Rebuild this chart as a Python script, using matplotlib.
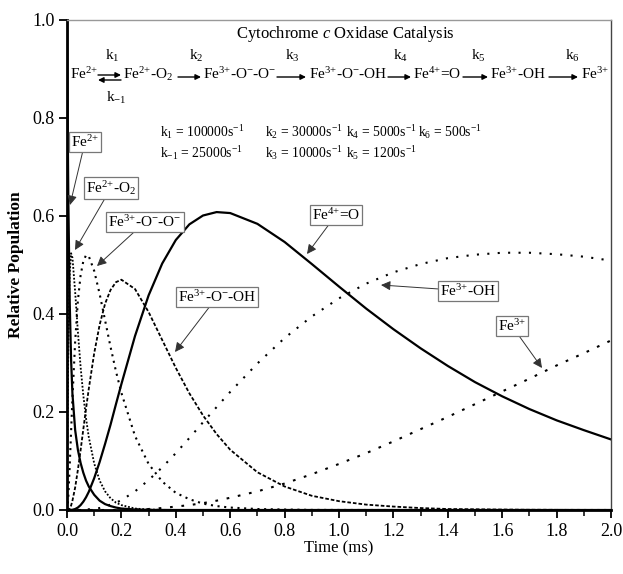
import matplotlib
matplotlib.use("Agg")
import matplotlib.pyplot as plt
from matplotlib.ticker import MultipleLocator

plt.rcParams['font.family'] = 'Liberation Serif'
plt.rcParams['mathtext.fontset'] = 'custom'
plt.rcParams['mathtext.rm'] = 'Liberation Serif'
plt.rcParams['mathtext.it'] = 'Liberation Serif:italic'
plt.rcParams['mathtext.bf'] = 'Liberation Serif:bold'

############################################################################
#                      DATA
############################################################################

time_ms = [0, 0.002, 0.005, 0.01, 0.015, 0.02, 0.03, 0.04, 0.05, 0.06,
           0.07, 0.08, 0.1, 0.12, 0.14, 0.16, 0.18, 0.2, 0.25, 0.3,
           0.35, 0.4, 0.45, 0.5, 0.55, 0.6, 0.7, 0.8, 0.9, 1.0,
           1.1, 1.2, 1.3, 1.4, 1.5, 1.6, 1.7, 1.8, 1.9, 2.0]

fe2 = [1.0, 0.823, 0.627, 0.423, 0.307, 0.237, 0.163, 0.123, 0.096, 0.076,
       0.060, 0.048, 0.031, 0.019, 0.012, 0.008, 0.005, 0.003, 0.001, 0.0003,
       0.0001, 0, 0, 0, 0, 0, 0, 0, 0, 0,
       0, 0, 0, 0, 0, 0, 0, 0, 0, 0]

fe2_o2 = [0, 0.172, 0.344, 0.484, 0.524, 0.515, 0.445, 0.364, 0.292, 0.234,
          0.187, 0.149, 0.095, 0.060, 0.038, 0.024, 0.015, 0.010, 0.003, 0.001,
          0.0003, 0, 0, 0, 0, 0, 0, 0, 0, 0,
          0, 0, 0, 0, 0, 0, 0, 0, 0, 0]

peroxo = [0, 0.005, 0.029, 0.090, 0.160, 0.228, 0.344, 0.427, 0.479, 0.508,
          0.520, 0.518, 0.488, 0.441, 0.387, 0.333, 0.283, 0.239, 0.151, 0.094,
          0.058, 0.035, 0.022, 0.013, 0.008, 0.005, 0.002, 0.001, 0.0002, 0.0001,
          0, 0, 0, 0, 0, 0, 0, 0, 0, 0]

hydroperoxo = [0, 0, 0.0005, 0.003, 0.009, 0.019, 0.046, 0.082, 0.122, 0.165,
               0.207, 0.247, 0.320, 0.378, 0.421, 0.449, 0.465, 0.470, 0.451, 0.404,
               0.347, 0.290, 0.238, 0.193, 0.155, 0.123, 0.077, 0.048, 0.029, 0.018,
               0.011, 0.007, 0.004, 0.002, 0.0015, 0.0009, 0.0005, 0.0003, 0.0002, 0.0001]

ferryl = [0, 0, 0, 0, 0.0002, 0.0005, 0.002, 0.005, 0.010, 0.017,
          0.026, 0.037, 0.065, 0.098, 0.135, 0.174, 0.216, 0.257, 0.355, 0.438,
          0.503, 0.551, 0.583, 0.601, 0.608, 0.606, 0.584, 0.547, 0.502, 0.456,
          0.411, 0.369, 0.330, 0.294, 0.261, 0.232, 0.206, 0.183, 0.163, 0.144]

hydroxo = [0, 0, 0, 0, 0, 0, 0, 0, 0.0002, 0.0005,
           0.001, 0.0015, 0.002, 0.004, 0.007, 0.011, 0.015, 0.020, 0.038, 0.061,
           0.087, 0.116, 0.147, 0.179, 0.210, 0.241, 0.299, 0.351, 0.395, 0.432,
           0.462, 0.485, 0.502, 0.514, 0.521, 0.525, 0.525, 0.522, 0.517, 0.509]

ferric = [0, 0, 0, 0, 0, 0, 0, 0, 0, 0,
          0, 0, 0, 0, 0, 0, 0, 0.0002, 0.001, 0.002,
          0.004, 0.007, 0.010, 0.014, 0.019, 0.025, 0.038, 0.054, 0.073, 0.094,
          0.116, 0.140, 0.165, 0.190, 0.216, 0.242, 0.268, 0.295, 0.320, 0.346]

species = ['Fe$^{2{+}}$', 'Fe$^{2{+}}$-O$_2$', 'Fe$^{3{+}}$-O$^{-}$-O$^{-}$',
           'Fe$^{3{+}}$-O$^{-}$-OH', 'Fe$^{4{+}}$=O', 'Fe$^{3{+}}$-OH', 'Fe$^{3{+}}$']
rate_labels = ['k$_1$', 'k$_2$', 'k$_3$', 'k$_4$', 'k$_5$', 'k$_6$']


def px(x, y):
    # pixel position in the 623x574 picture -> data coordinates
    return ((x - 67) / 272.0, (510 - y) / 490.0)


fig = plt.figure(figsize=(6.23, 5.74), dpi=100)
ax = fig.add_axes([67 / 623, 1 - 510 / 574, 544 / 623, 490 / 574])

ax.plot(time_ms, fe2, color='k', lw=1.6)
ax.plot(time_ms, fe2_o2, color='k', lw=1.3, linestyle=(0, (1, 1)))
ax.plot(time_ms, peroxo, color='k', lw=1.5, linestyle=(0, (1, 2.2)))
ax.plot(time_ms, hydroperoxo, color='k', lw=1.3, linestyle=(0, (2, 1.1)))
ax.plot(time_ms, ferryl, color='k', lw=1.6)
ax.plot(time_ms, hydroxo, color='k', lw=1.5, linestyle=(0, (1, 4)))
ax.plot(time_ms, ferric, color='k', lw=1.5, linestyle=(0, (1.3, 4.2)))

ax.set_xlim(0, 2.0)
ax.set_ylim(0, 1.0)
ax.xaxis.set_major_locator(MultipleLocator(0.2))
ax.xaxis.set_minor_locator(MultipleLocator(0.1))
ax.yaxis.set_major_locator(MultipleLocator(0.2))
ax.tick_params(axis='both', which='major', direction='out', length=6, width=1.3,
               labelsize=13, pad=3)
ax.tick_params(axis='x', which='minor', direction='out', length=4, width=1.1)

for side in ['left', 'bottom']:
    ax.spines[side].set_linewidth(2)
ax.spines['top'].set_color('#999999')
ax.spines['top'].set_linewidth(1)
ax.spines['right'].set_color('#444444')
ax.spines['right'].set_linewidth(1)

ax.set_xlabel('Time (ms)', fontsize=12, labelpad=1)
ax.set_ylabel('Relative Population', fontsize=12.5, fontweight='bold', labelpad=6)

# title inside the frame
ax.text(*px(345, 34), 'Cytochrome $\\it{c}$ Oxidase Catalysis', fontsize=12,
        ha='center', va='center')

# reaction scheme
row_y = 74
species_x = [70, 123, 203, 309, 413, 490, 581]
for name, x in zip(species, species_x):
    ax.text(*px(x, row_y), name, fontsize=11, ha='left', va='center')

arrow_spans = [(98, 121), (178, 201), (277, 306), (388, 411), (463, 488), (549, 578)]
k_x = [112, 196, 292, 400, 478, 572]
arrow_kw = dict(arrowstyle='-|>', color='k', lw=1, mutation_scale=8,
                shrinkA=0, shrinkB=0)
for i, (x1, x2) in enumerate(arrow_spans):
    yy = row_y + 1 if i == 0 else row_y + 3
    ax.annotate('', xy=px(x2, yy), xytext=px(x1, yy), arrowprops=arrow_kw)
    ax.text(*px(k_x[i], 56), rate_labels[i], fontsize=11, ha='center', va='center')
# back reaction of the first step
ax.annotate('', xy=px(98, row_y + 6), xytext=px(121, row_y + 6), arrowprops=arrow_kw)
ax.text(*px(116, 98), 'k$_{-1}$', fontsize=11, ha='center', va='center')

# rate constants
rate_lines = [
    (160, 132, 'k$_1$ = 100000s$^{-1}$'), (265, 132, 'k$_2$ = 30000s$^{-1}$'),
    (346, 132, 'k$_4$ = 5000s$^{-1}$'), (418, 132, 'k$_6$ = 500s$^{-1}$'),
    (160, 153, 'k$_{-1}$ = 25000s$^{-1}$'), (265, 153, 'k$_3$ = 10000s$^{-1}$'),
    (346, 153, 'k$_5$ = 1200s$^{-1}$'),
]
for x, y, s in rate_lines:
    ax.text(*px(x, y), s, fontsize=9.8, ha='left', va='center')

# curve labels with arrows
label_boxes = [(85, 142), (111, 188), (145, 222), (217, 297), (336, 215), (468, 291), (512, 326)]
label_tips = [(70, 205), (75, 250), (97, 266), (175, 352), (307, 254), (381, 285), (542, 368)]
box_kw = dict(boxstyle='square,pad=0.12', fc='white', ec='#777777', lw=0.9)
for name, (bx, by), (tx, ty) in zip(species, label_boxes, label_tips):
    ax.annotate(name, xy=px(tx, ty), xytext=px(bx, by), fontsize=11,
                ha='center', va='center', bbox=box_kw,
                arrowprops=dict(arrowstyle='-|>', color='#333333', lw=0.7,
                                mutation_scale=14, shrinkA=0, shrinkB=0))

fig.savefig('out.png', dpi=100)
